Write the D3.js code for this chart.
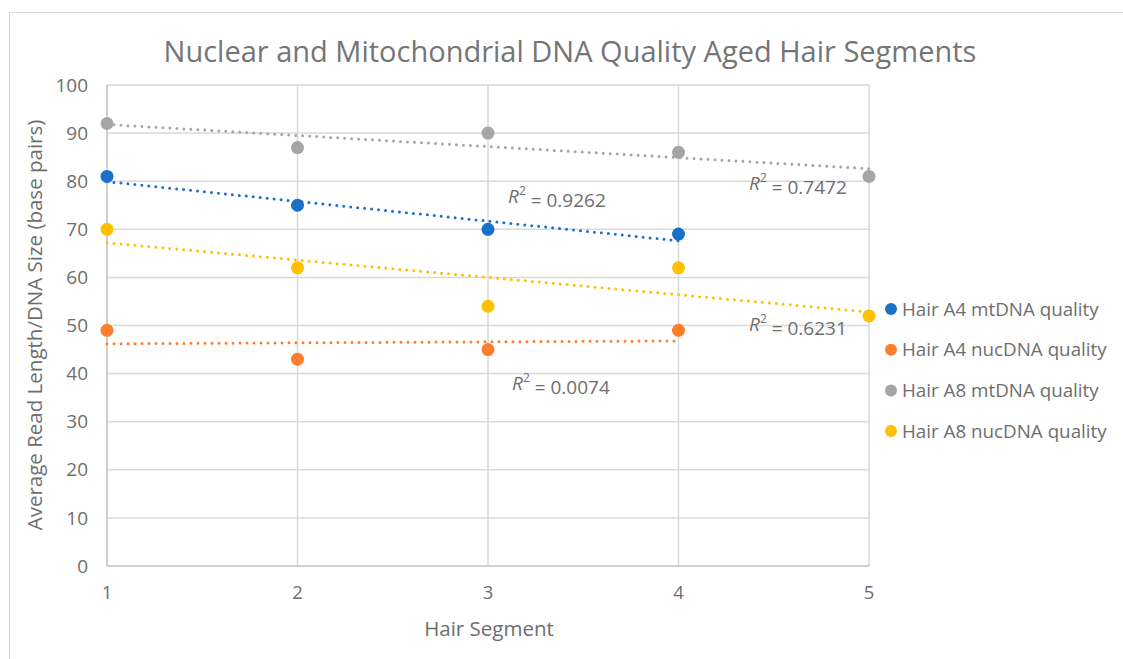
<!DOCTYPE html>
<html><head><meta charset="utf-8">
<script src="https://cdn.jsdelivr.net/npm/d3@7"></script>
<style>body{margin:0;background:#fff;} text{font-family:"Open Sans",sans-serif;}</style>
</head><body>
<svg id="c" width="1123" height="659"></svg>
<script>
const segments = [1,2,3,4,5];
const a4mt  = [81,75,70,69];
const a4nuc = [49,43,45,49];
const a8mt  = [92,87,90,86,81];
const a8nuc = [70,62,54,62,52];
const yTicks = [0,10,20,30,40,50,60,70,80,90,100];
const seriesNames = ["Hair A4 mtDNA quality","Hair A4 nucDNA quality","Hair A8 mtDNA quality","Hair A8 nucDNA quality"];
const colors = ["#1a6fc9","#fd7e2b","#a5a5a5","#ffc000"];
const r2Labels = ["0.9262","0.0074","0.7472","0.6231"];
const r2Pos = [[508,196],[512,383],[749,183],[749,324]];
const textColor = "#6e6e6e";

const series = [a4mt,a4nuc,a8mt,a8nuc].map((v,i)=>({name:seriesNames[i],color:colors[i],pts:v.map((y,j)=>({x:segments[j],y}))}));

const svg = d3.select("#c");
svg.append("rect").attr("x",9.5).attr("y",12.5).attr("width",1300).attr("height",800).attr("fill","#fff").attr("stroke","#d9d9d9");

const x = d3.scaleLinear().domain([1,5]).range([107,869]);
const y = d3.scaleLinear().domain([0,100]).range([566,85]);

// gridlines
svg.append("g").selectAll("line").data(yTicks.slice(1)).join("line")
  .attr("x1",x(1)).attr("x2",x(5)).attr("y1",d=>y(d)).attr("y2",d=>y(d)).attr("stroke","#d9d9d9").attr("stroke-width",1.5);
svg.append("g").selectAll("line").data(segments.slice(1)).join("line")
  .attr("x1",d=>x(d)).attr("x2",d=>x(d)).attr("y1",y(0)).attr("y2",y(100)).attr("stroke","#d9d9d9").attr("stroke-width",1.5);
// axes lines
svg.append("line").attr("x1",x(1)).attr("x2",x(1)).attr("y1",y(0)).attr("y2",y(100)).attr("stroke","#bfbfbf").attr("stroke-width",1.5);
svg.append("line").attr("x1",x(1)).attr("x2",x(5)).attr("y1",y(0)).attr("y2",y(0)).attr("stroke","#bfbfbf").attr("stroke-width",1.5);

// y tick labels
svg.append("g").selectAll("text").data(yTicks).join("text")
  .attr("x",88).attr("y",d=>y(d)).attr("dy","0.35em").attr("text-anchor","end")
  .attr("font-size",19).attr("fill",textColor).text(d=>d);
// x tick labels
svg.append("g").selectAll("text").data(segments).join("text")
  .attr("x",d=>x(d)).attr("y",593).attr("dy","0.35em").attr("text-anchor","middle")
  .attr("font-size",18.5).attr("fill",textColor).text(d=>d);

// titles
svg.append("text").attr("x",570).attr("y",52).attr("dy","0.35em").attr("text-anchor","middle")
  .attr("font-size",29).attr("fill","#757575").text("Nuclear and Mitochondrial DNA Quality Aged Hair Segments");
svg.append("text").attr("x",489).attr("y",629).attr("dy","0.35em").attr("text-anchor","middle")
  .attr("font-size",20.5).attr("fill",textColor).text("Hair Segment");
svg.append("text").attr("transform","translate(35,325) rotate(-90)").attr("dy","0.35em").attr("text-anchor","middle")
  .attr("font-size",20.5).attr("fill",textColor).text("Average Read Length/DNA Size (base pairs)");

// trendlines (least-squares fits of each series)
function fit(pts){
  const mx=d3.mean(pts,p=>p.x), my=d3.mean(pts,p=>p.y);
  const sxy=d3.sum(pts,p=>(p.x-mx)*(p.y-my)), sxx=d3.sum(pts,p=>(p.x-mx)**2);
  const b=sxy/sxx, a=my-b*mx;
  const x0=d3.min(pts,p=>p.x), x1=d3.max(pts,p=>p.x);
  return [[x0,a+b*x0],[x1,a+b*x1]];
}
series.forEach(s=>{
  const f=fit(s.pts);
  svg.append("line").attr("x1",x(f[0][0])).attr("y1",y(f[0][1])).attr("x2",x(f[1][0])).attr("y2",y(f[1][1]))
    .attr("stroke",s.color).attr("stroke-width",3).attr("stroke-linecap","round").attr("stroke-dasharray","0,7");
});
// points
series.forEach(s=>{
  svg.append("g").selectAll("circle").data(s.pts).join("circle")
    .attr("cx",d=>x(d.x)).attr("cy",d=>y(d.y)).attr("r",6.5).attr("fill",s.color);
});
// R² labels
r2Labels.forEach((v,i)=>{
  const t=svg.append("text").attr("x",r2Pos[i][0]).attr("y",r2Pos[i][1]).attr("dy","0.35em")
    .attr("font-size",19).attr("fill",textColor);
  t.append("tspan").attr("font-style","italic").text("R");
  t.append("tspan").attr("font-size",12).attr("dy","-0.6em").text("2");
  t.append("tspan").attr("dy","0.6em").text(" = "+v);
});

// legend
const lg = svg.append("g").selectAll("g").data(series).join("g")
  .attr("transform",(d,i)=>`translate(0,${309+i*40.7})`);
lg.append("circle").attr("cx",891).attr("cy",0).attr("r",6).attr("fill",d=>d.color);
lg.append("text").attr("x",902).attr("y",0).attr("dy","0.35em").attr("font-size",18.8).attr("fill",textColor).text(d=>d.name);
</script>
</body></html>
